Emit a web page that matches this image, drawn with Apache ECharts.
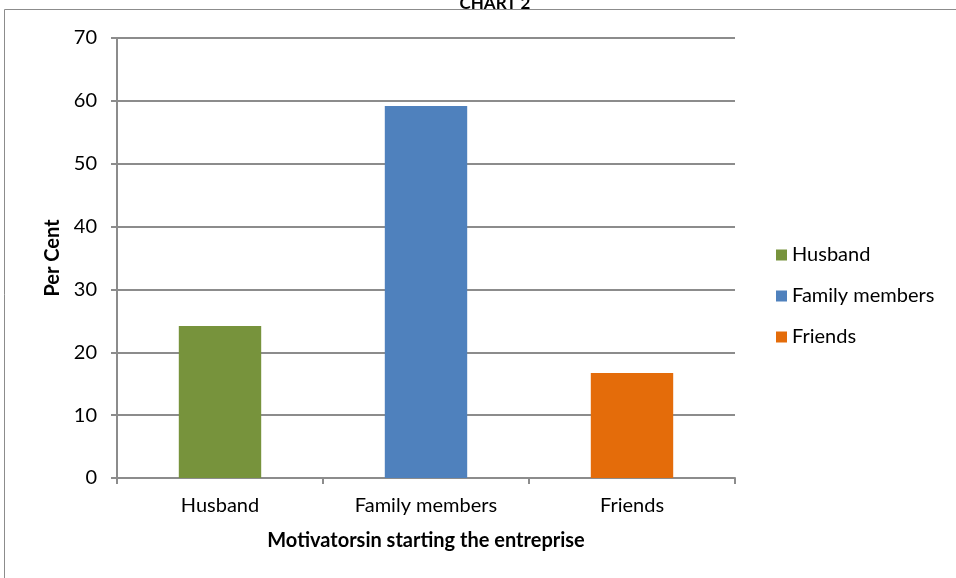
<!DOCTYPE html>
<html>
<head>
<meta charset="utf-8">
<script src="https://cdn.jsdelivr.net/npm/echarts@6/dist/echarts.min.js"></script>
<style>
  html, body { margin: 0; padding: 0; background: #fff; }
  #chart { width: 956px; height: 578px; }
</style>
</head>
<body>
<div id="chart"></div>
<script>
// Chart 2 - motivators in starting the enterprise (per cent)
const categories = ["Husband", "Family members", "Friends"];
const values = [24.2, 59.2, 16.7];
const barColors = ["#77933C", "#4F81BD", "#E46C0A"];

const FONT = "Lato, 'Open Sans', sans-serif";

const chart = echarts.init(document.getElementById("chart"));

// one series per category so the legend shows each motivator
const series = categories.map((name, i) => ({
  name: name,
  type: "bar",
  stack: "all",
  barWidth: "40%",
  itemStyle: { color: barColors[i] },
  data: categories.map((c, j) => (j === i ? values[i] : "-")),
}));

const option = {
  animation: false,
  title: {
    text: "CHART 2",
    left: 490,
    top: -10,
    textAlign: "center",
    textStyle: { fontFamily: FONT, fontSize: 17, fontWeight: "bold", color: "#000" },
  },
  graphic: [
    {
      type: "rect",
      shape: { x: 4.5, y: 9.5, width: 1000, height: 600 },
      style: { fill: "none", stroke: "#8c8c8c", lineWidth: 1 },
      silent: true,
    },
  ],
  legend: {
    orient: "vertical",
    left: 771,
    top: 240,
    itemWidth: 11,
    itemHeight: 11,
    itemGap: 21,
    icon: "rect",
    textStyle: { fontFamily: FONT, fontSize: 20, color: "#000", padding: [0, 0, 0, 0] },
  },
  grid: { left: 117, right: 221, top: 38, bottom: 100, containLabel: false },
  xAxis: {
    type: "category",
    data: categories,
    name: "Motivatorsin starting the entreprise",
    nameLocation: "middle",
    nameGap: 53,
    nameTextStyle: { fontFamily: FONT, fontSize: 20, fontWeight: "bold", color: "#000" },
    axisLine: { lineStyle: { color: "#8c8c8c", width: 2 } },
    axisTick: { show: true, alignWithLabel: false, length: 6, lineStyle: { color: "#8c8c8c", width: 2 } },
    axisLabel: { fontFamily: FONT, fontSize: 20, color: "#000", margin: 18 },
  },
  yAxis: {
    type: "value",
    min: 0,
    max: 70,
    interval: 10,
    name: "Per Cent",
    nameLocation: "middle",
    nameGap: 51,
    nameTextStyle: { fontFamily: FONT, fontSize: 20, fontWeight: "bold", color: "#000" },
    axisLine: { show: true, lineStyle: { color: "#8c8c8c", width: 2 } },
    axisTick: { show: true, length: 6, lineStyle: { color: "#8c8c8c", width: 2 } },
    axisLabel: { fontFamily: FONT, fontSize: 20, color: "#000", margin: 20 },
    splitLine: { lineStyle: { color: "#8c8c8c", width: 2 } },
  },
  series: series,
};

chart.setOption(option);
</script>
</body>
</html>
